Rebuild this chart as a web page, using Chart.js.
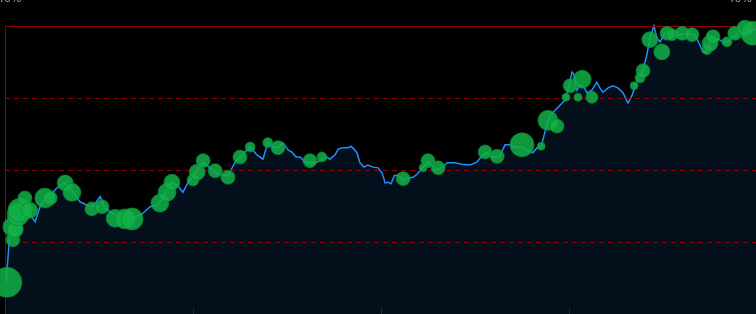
<!DOCTYPE html>
<html>
<head>
<meta charset="utf-8">
<script src="https://cdn.jsdelivr.net/npm/chart.js@4"></script>
<style>
  html, body { margin: 0; padding: 0; background: #000; overflow: hidden; }
  #wrap { position: relative; width: 756px; height: 314px; overflow: hidden; }
  #chart { position: absolute; left: 0; top: -10px; }
</style>
</head>
<body>
<div id="wrap"><canvas id="chart" width="760" height="334"></canvas></div>
<script>
// trading days since start, and cumulative return (%)
const days = [0.3, 1.3, 2.4, 3.5, 4.5, 5.6, 6.6, 8.0, 9.3, 10.9, 12.5, 13.8, 15.7, 17.8, 19.9, 21.8, 23.4, 25.3, 26.6, 28.5,
  30.6, 32.7, 34.8, 36.7, 38.6, 40.2, 41.2, 43.1, 44.4, 46.0, 47.3, 48.7, 50.0, 51.1, 52.7, 54.5, 55.9, 57.7, 59.3, 61.2,
  62.5, 63.8, 65.2, 67.0, 68.6, 69.9, 71.3, 72.6, 73.9, 75.3, 76.3, 77.4, 78.5, 79.8, 81.6, 83.0, 84.3, 85.6, 86.4, 87.8,
  88.6, 89.9, 91.2, 92.0, 92.8, 93.6, 94.4, 95.5, 96.5, 97.9, 99.2, 100.3, 101.1, 101.9, 102.7, 103.5, 104.5, 105.9, 107.2, 108.5,
  109.6, 110.9, 112.5, 114.4, 116.2, 117.6, 119.7, 121.5, 123.7, 125.5, 126.6, 128.2, 129.8, 131.4, 133.0, 134.3, 135.6, 137.5, 138.8, 140.4,
  141.5, 142.6, 143.6, 144.9, 146.3, 147.6, 148.9, 149.7, 150.8, 151.3, 152.1, 152.9, 154.0, 154.8, 156.1, 157.4, 158.2, 159.0, 160.4, 161.7,
  163.0, 164.4, 165.7, 166.8, 167.6, 168.9, 169.7, 170.7, 171.5, 172.6, 173.4, 174.2, 175.5, 177.4, 179.5, 181.6, 183.5, 184.8, 185.6, 186.7,
  187.5, 188.3, 189.6, 191.0, 192.3, 193.6, 195.5, 197.3, 198.9, 200.0];
const values = [4.4, 11.4, 12.8, 13.8, 14.2, 14.7, 13.9, 12.8, 14.9, 16.3, 16.8, 17.5, 18.2, 17.2, 15.6, 15.1, 14.9, 16.3, 14.7, 14.0,
  13.5, 13.3, 13.5, 14.0, 14.9, 15.1, 15.6, 17.2, 18.3, 17.8, 16.9, 18.3, 19.2, 20.0, 21.1, 20.3, 19.7, 19.3, 19.2, 21.1,
  21.8, 22.5, 23.2, 22.1, 21.5, 23.8, 23.2, 23.1, 23.8, 22.8, 22.5, 21.8, 21.8, 21.1, 21.0, 21.1, 21.5, 21.8, 21.5, 22.1,
  22.9, 23.1, 23.1, 23.3, 22.9, 22.4, 21.0, 20.4, 20.7, 20.4, 20.3, 19.6, 18.2, 18.3, 18.1, 19.2, 19.3, 18.6, 18.9, 19.0,
  19.4, 20.3, 21.1, 20.0, 20.3, 21.0, 21.0, 20.8, 20.7, 21.1, 21.8, 22.4, 21.8, 21.8, 23.5, 23.5, 23.2, 23.2, 22.8, 22.4,
  23.1, 23.2, 25.3, 27.6, 28.3, 29.0, 29.7, 31.1, 33.6, 33.3, 31.1, 31.8, 31.5, 30.7, 31.1, 32.2, 31.4, 30.8, 31.4, 31.7,
  31.4, 30.7, 29.3, 30.4, 31.8, 33.2, 33.9, 36.0, 38.3, 40.0, 38.3, 37.8, 39.0, 38.5, 38.8, 39.0, 38.8, 37.4, 36.4, 36.4,
  37.6, 37.8, 38.2, 37.8, 37.8, 38.5, 39.0, 39.2, 39.4, 39.7];

// trade markers: day, return (%), marker radius (position size)
const tradeDays = [0.5, 2.1, 2.1, 2.7, 3.5, 4.0, 5.3, 6.6, 10.6, 12.0, 16.0, 17.8, 23.1, 25.8, 29.3, 31.9, 33.8, 41.2, 43.1, 44.4,
  50.0, 51.1, 52.7, 55.9, 59.3, 62.5, 65.2, 69.9, 72.6, 81.1, 84.3, 105.9, 111.2, 112.5, 115.2, 127.7, 130.9, 137.5, 142.6, 144.4,
  146.8, 149.2, 150.3, 152.4, 153.5, 156.1, 167.3, 168.9, 169.7, 171.5, 174.7, 176.1, 177.4, 180.1, 182.7, 186.7, 187.5, 188.3, 192.0, 194.1,
  196.8, 198.9];
const tradeValues = [4.4, 10.3, 12.1, 11.7, 13.8, 14.4, 16.1, 14.4, 16.1, 16.1, 18.2, 16.9, 14.6, 14.9, 13.3, 13.2, 13.2, 15.4, 16.9, 18.3,
  18.6, 19.7, 21.3, 19.9, 19.0, 21.8, 23.2, 23.8, 23.1, 21.3, 21.8, 18.8, 20.3, 21.3, 20.3, 22.5, 21.9, 23.5, 23.3, 26.9,
  26.1, 30.1, 31.7, 30.1, 32.6, 30.1, 31.7, 32.8, 33.8, 38.1, 36.4, 39.0, 38.8, 39.0, 38.8, 36.7, 37.6, 38.5, 37.8, 39.0,
  39.7, 39.0];
const tradeSizes = [15, 7, 10, 8, 11, 12, 7, 8, 10, 7, 8, 9, 7, 7, 9, 10, 11, 9, 9, 8,
  6, 8, 7, 7, 7, 7, 5, 5, 7, 7, 5, 7, 4, 7, 7, 7, 7, 12, 4, 10,
  7, 4, 7, 4, 9, 6, 4, 5, 7, 8, 8, 7, 6, 7, 7, 5, 8, 7, 5, 7,
  8, 12];

const yTicks = [0, 10, 20, 30, 40];
const xTicks = [0, 50, 100, 150, 200];

const gridColor = "#8b0000";

// red grid goes over the area fill but under the trade bubbles
const gridPlugin = {
  id: "redGrid",
  afterDatasetDraw(chart, args) {
    if (args.index !== 1) return;
    const { ctx, chartArea, scales } = chart;
    ctx.save();
    ctx.lineWidth = 1;
    ctx.strokeStyle = gridColor;
    yTicks.forEach((v) => {
      const y = Math.round(scales.y.getPixelForValue(v)) + 0.5;
      ctx.setLineDash(v === yTicks[yTicks.length - 1] ? [] : [5, 4]);
      ctx.beginPath();
      ctx.moveTo(chartArea.left, y);
      ctx.lineTo(chartArea.right, y);
      ctx.stroke();
    });
    ctx.setLineDash([]);
    const x0 = Math.round(chartArea.left) + 0.5;
    ctx.beginPath();
    ctx.moveTo(x0, chartArea.top);
    ctx.lineTo(x0, chartArea.bottom);
    ctx.stroke();
    xTicks.forEach((v) => {
      const x = Math.round(scales.x.getPixelForValue(v)) + 0.5;
      ctx.beginPath();
      ctx.moveTo(x, chartArea.bottom - 5);
      ctx.lineTo(x, chartArea.bottom);
      ctx.stroke();
    });
    ctx.restore();
  },
  afterDraw(chart) {
    const { ctx, chartArea } = chart;
    ctx.save();
    ctx.fillStyle = "#9a9a9a";
    ctx.font = "11px 'DejaVu Sans'";
    ctx.textBaseline = "alphabetic";
    ctx.textAlign = "left";
    ctx.fillText("40%", -3, 12);
    ctx.textAlign = "right";
    ctx.fillText("40%", chartArea.right - 5, 12);
    ctx.restore();
  },
};

new Chart(document.getElementById("chart"), {
  data: {
    datasets: [
      {
        type: "bubble",
        order: 0,
        data: tradeDays.map((d, i) => ({ x: d, y: tradeValues[i], r: tradeSizes[i] })),
        backgroundColor: "rgba(18,178,72,0.85)",
        borderColor: "rgba(10,135,52,0.7)",
        borderWidth: 1,
        clip: false,
      },
      {
        type: "line",
        order: 1,
        data: days.map((d, i) => ({ x: d, y: values[i] })),
        borderColor: "#1e90ff",
        borderWidth: 1.5,
        backgroundColor: "#03101b",
        fill: "start",
        pointRadius: 0,
        tension: 0,
        clip: false,
      },
    ],
  },
  options: {
    responsive: false,
    animation: false,
    layout: { autoPadding: false, padding: { left: 5, right: 3, top: 36, bottom: 10 } },
    plugins: { legend: { display: false }, tooltip: { enabled: false } },
    scales: {
      x: { type: "linear", min: 0, max: 200, display: false },
      y: { type: "linear", min: 0, max: 40, display: false },
    },
  },
  plugins: [gridPlugin],
});
</script>
</body>
</html>
